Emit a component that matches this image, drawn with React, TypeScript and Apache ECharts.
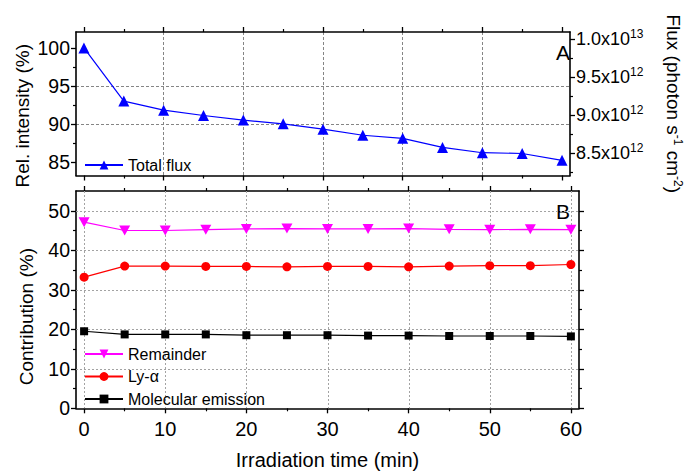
import React, { useEffect, useRef } from 'react';
import * as echarts from 'echarts';

const times = [0, 5, 10, 15, 20, 25, 30, 35, 40, 45, 50, 55, 60];
const totalFlux = [100, 93.0, 91.8, 91.1, 90.5, 90.0, 89.3, 88.5, 88.1, 86.9, 86.2, 86.1, 85.2];
const remainder = [47.1, 45.0, 45.0, 45.2, 45.4, 45.5, 45.4, 45.4, 45.5, 45.3, 45.2, 45.3, 45.2];
const lyAlpha = [33.2, 36.0, 36.0, 35.9, 35.9, 35.8, 35.9, 35.9, 35.8, 36.0, 36.1, 36.1, 36.4];
const molecular = [19.5, 18.7, 18.7, 18.7, 18.5, 18.5, 18.5, 18.4, 18.4, 18.3, 18.3, 18.3, 18.2];
const timeTicks = [0, 10, 20, 30, 40, 50, 60];
const relTicks = [85, 90, 95, 100];
const fluxTicks = [8.5e12, 9.0e12, 9.5e12, 1.0e13];
const contribTicks = [0, 10, 20, 30, 40, 50];

const FONT = "'Liberation Sans', Arial, sans-serif";
const gridLine = (color: string, dash: any) => ({
  show: true,
  showMinLine: false,
  showMaxLine: false,
  lineStyle: { color, type: dash, width: 1 },
});
const FRAME = { show: true, onZero: false, lineStyle: { color: '#000', width: 1.6 } };
const TICK = { show: true, inside: false, length: 5, lineStyle: { color: '#000', width: 1.3 } };
const MINOR = { show: true, splitNumber: 2, length: 3, lineStyle: { color: '#000', width: 1.2 } };
const LABEL = { color: '#000', fontSize: 19.5, fontFamily: FONT };
const NAME = { color: '#000', fontSize: 19, fontFamily: FONT };

const pairs = (ys: number[]) => times.map((t, i) => [t, ys[i]]);

const DOWN_TRI = 'path://M0,0 L10,0 L5,9 Z';

function fluxLabel(v: number) {
  const exp = v >= 1e13 ? 13 : 12;
  const mant = (v / Math.pow(10, exp)).toFixed(1);
  return `{b|${mant}x10}{s|${exp}}`;
}

// Grid lines of panel B, drawn through the axes' own scales
function renderGridB(params: any, api: any) {
  const yTop = api.coord([0, 55])[1];
  const yBottom = api.coord([0, 0])[1];
  const xLeft = api.coord([-1, 0])[0];
  const xRight = api.coord([61, 0])[0];
  const style = { stroke: '#a3a3a3', lineWidth: 1, lineDash: [2, 2], fill: null };
  const children: any[] = [];
  timeTicks.forEach((t) => {
    const x = Math.round(api.coord([t, 0])[0]) + 0.5;
    children.push({ type: 'line', silent: true, shape: { x1: x, y1: yTop, x2: x, y2: yBottom }, style });
  });
  contribTicks.forEach((v) => {
    if (v <= 0) return;
    const y = Math.round(api.coord([0, v])[1]) + 0.5;
    children.push({ type: 'line', silent: true, shape: { x1: xLeft, y1: y, x2: xRight, y2: y }, style });
  });
  return { type: 'group', children };
}

export default function App() {
  const ref = useRef<HTMLDivElement>(null);
  useEffect(() => {
    if (!ref.current) return;
    const chart = echarts.init(ref.current, null, { renderer: 'svg' });
    const xBase = () => ({
      type: 'value',
      min: -1,
      max: 61,
      minInterval: 10,
      maxInterval: 10,
      axisLine: FRAME,
      axisTick: { ...TICK, customValues: timeTicks },
      minorTick: MINOR,
    });
    const option: any = {
      animation: false,
      backgroundColor: '#fff',
      textStyle: { fontFamily: FONT },
      grid: [
        { left: 76, right: 113, top: 32, height: 143.5 },
        { left: 76, right: 113, top: 191, height: 217.3 },
      ],
      xAxis: [
        { ...xBase(), gridIndex: 0, position: 'bottom', axisLabel: { show: false }, splitLine: gridLine('#858585', [3, 2]) },
        { ...xBase(), gridIndex: 0, position: 'top', axisLabel: { show: false }, splitLine: { show: false } },
        {
          ...xBase(),
          gridIndex: 1,
          position: 'bottom',
          splitLine: { show: false },
          axisLabel: { ...LABEL, fontSize: 20, margin: 11, customValues: timeTicks },
          name: 'Irradiation time (min)',
          nameLocation: 'middle',
          nameGap: 42,
          nameMoveOverlap: false,
          nameTextStyle: { ...NAME, fontSize: 20 },
        },
        { ...xBase(), gridIndex: 1, position: 'top', axisLabel: { show: false }, splitLine: { show: false } },
      ],
      yAxis: [
        {
          type: 'value',
          gridIndex: 0,
          position: 'left',
          min: 83.2,
          max: 102.1,
          minInterval: 5,
          maxInterval: 5,
          axisLine: FRAME,
          axisTick: { ...TICK, customValues: relTicks },
          minorTick: MINOR,
          splitLine: gridLine('#858585', [3, 2]),
          axisLabel: { ...LABEL, margin: 6, customValues: relTicks },
          name: 'Rel. intensity (%)',
          nameLocation: 'middle',
          nameGap: 44,
          nameMoveOverlap: false,
          nameTextStyle: { ...NAME, padding: [0, 24, 0, 0] },
        },
        {
          type: 'value',
          gridIndex: 0,
          position: 'right',
          min: 8.205e12,
          max: 10.096e12,
          minInterval: 5e11,
          maxInterval: 5e11,
          axisLine: FRAME,
          axisTick: { ...TICK, customValues: fluxTicks },
          minorTick: MINOR,
          splitLine: { show: false },
          axisLabel: {
            color: '#000',
            margin: 6,
            customValues: fluxTicks,
            formatter: fluxLabel,
            rich: {
              b: { fontSize: 18, fontFamily: FONT, color: '#000' },
              s: { fontSize: 12, fontFamily: FONT, color: '#000', padding: [0, 0, 10, 0] },
            },
          },
          name: 'Flux (photon s{s|-1} cm{s|-2})',
          nameLocation: 'middle',
          nameGap: 92,
          nameRotate: -90,
          nameMoveOverlap: false,
          nameTextStyle: {
            ...NAME,
            rich: {
              s: { fontSize: 12, fontFamily: FONT, color: '#000', padding: [0, 0, 10, 0] },
            },
          },
        },
        {
          type: 'value',
          gridIndex: 1,
          position: 'left',
          min: 0,
          max: 55,
          minInterval: 10,
          maxInterval: 10,
          axisLine: FRAME,
          axisTick: { ...TICK, customValues: contribTicks },
          minorTick: MINOR,
          splitLine: { show: false },
          axisLabel: { ...LABEL, margin: 6, customValues: contribTicks },
          name: 'Contribution (%)',
          nameLocation: 'middle',
          nameGap: 40,
          nameMoveOverlap: false,
          nameTextStyle: { ...NAME, padding: [0, 34, 0, 0] },
        },
        {
          type: 'value',
          gridIndex: 1,
          position: 'right',
          min: 0,
          max: 55,
          minInterval: 10,
          maxInterval: 10,
          axisLine: FRAME,
          axisTick: { ...TICK, customValues: contribTicks },
          minorTick: MINOR,
          splitLine: { show: false },
          axisLabel: { show: false },
        },
      ],
      legend: [
        {
          data: ['Total flux'],
          left: 84,
          top: 157,
          itemWidth: 38,
          itemHeight: 11,
          padding: 0,
          textStyle: { fontSize: 16, color: '#000', fontFamily: FONT },
        },
        {
          data: ['Remainder', 'Ly-α', 'Molecular emission'],
          orient: 'vertical',
          left: 84,
          top: 346,
          itemGap: 6.5,
          itemWidth: 38,
          itemHeight: 11,
          padding: 0,
          textStyle: { fontSize: 16, color: '#000', fontFamily: FONT },
        },
      ],
      graphic: [
        { type: 'text', left: 556, top: 42, style: { text: 'A', fontSize: 21, fontFamily: FONT, fill: '#000' } },
        { type: 'text', left: 556, top: 201, style: { text: 'B', fontSize: 21, fontFamily: FONT, fill: '#000' } },
      ],
      series: [
        {
          name: 'gridB',
          type: 'custom',
          xAxisIndex: 2,
          yAxisIndex: 2,
          data: [[0, 0]],
          renderItem: renderGridB,
          clip: false,
          silent: true,
          z: 1,
          tooltip: { show: false },
        },
        {
          name: 'Total flux',
          type: 'line',
          xAxisIndex: 0,
          yAxisIndex: 0,
          data: pairs(totalFlux),
          symbol: 'triangle',
          symbolSize: 11,
          color: '#0000ff',
          lineStyle: { width: 1.2, color: '#0000ff' },
          itemStyle: { color: '#0000ff' },
        },
        {
          name: 'Remainder',
          type: 'line',
          xAxisIndex: 2,
          yAxisIndex: 2,
          data: pairs(remainder),
          symbol: DOWN_TRI,
          symbolSize: [11, 10],
          color: '#ff00ff',
          lineStyle: { width: 1.2, color: '#ff00ff' },
          itemStyle: { color: '#ff00ff' },
        },
        {
          name: 'Ly-α',
          type: 'line',
          xAxisIndex: 2,
          yAxisIndex: 2,
          data: pairs(lyAlpha),
          symbol: 'circle',
          symbolSize: 9,
          color: '#ff0000',
          lineStyle: { width: 1.2, color: '#ff0000' },
          itemStyle: { color: '#ff0000' },
        },
        {
          name: 'Molecular emission',
          type: 'line',
          xAxisIndex: 2,
          yAxisIndex: 2,
          data: pairs(molecular),
          symbol: 'rect',
          symbolSize: 8,
          color: '#000000',
          lineStyle: { width: 1.2, color: '#000000' },
          itemStyle: { color: '#000000' },
        },
      ],
    };
    chart.setOption(option);
    return () => chart.dispose();
  }, []);
  return (
    <div
      ref={ref}
      style={{ position: 'absolute', left: 0, top: 0, width: 692, height: 472 }}
    />
  );
}
